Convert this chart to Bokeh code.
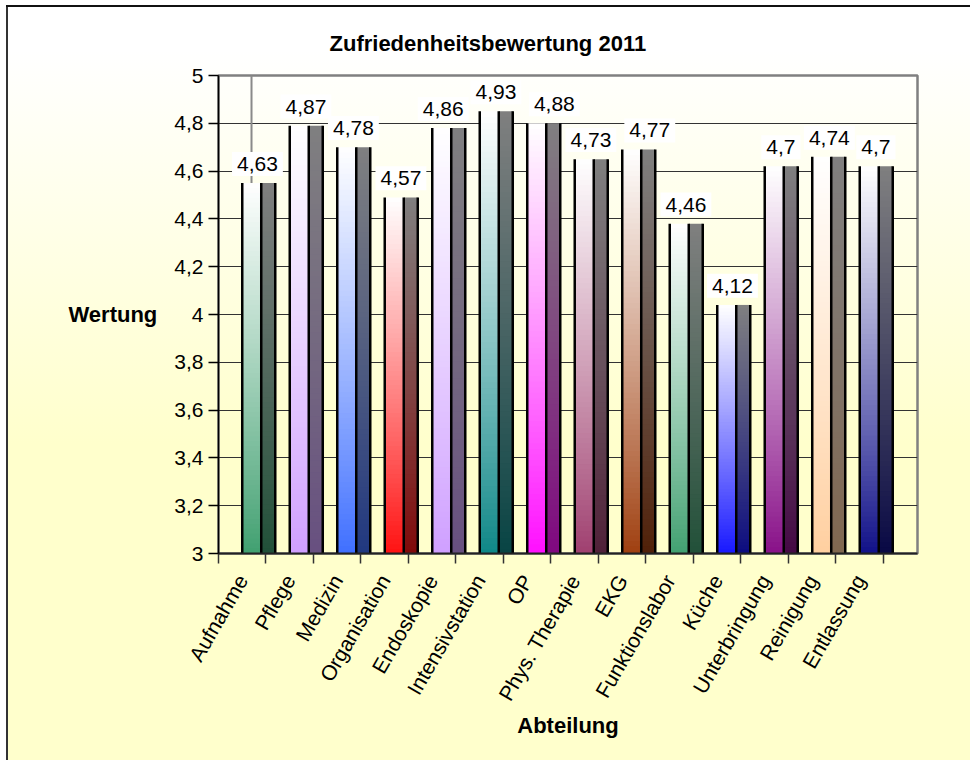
import math
from bokeh.plotting import figure
from bokeh.models import ColumnDataSource, FixedTicker, Range1d, Span
from bokeh.core.properties import value
from bokeh.embed import file_html
from bokeh.resources import INLINE

# ---------------- data ----------------
categories = ["Aufnahme", "Pflege", "Medizin", "Organisation", "Endoskopie",
              "Intensivstation", "OP", "Phys. Therapie", "EKG", "Funktionslabor",
              "Küche", "Unterbringung", "Reinigung", "Entlassung"]
scores = [4.63, 4.87, 4.78, 4.57, 4.86, 4.93, 4.88, 4.73, 4.77, 4.46, 4.12, 4.70, 4.74, 4.70]
score_labels = ["4,63", "4,87", "4,78", "4,57", "4,86", "4,93", "4,88", "4,73",
                "4,77", "4,46", "4,12", "4,7", "4,74", "4,7"]
bar_colors = ["#339966", "#CC99FF", "#3366FF", "#FF0000", "#CC99FF", "#008080", "#FF00FF",
              "#993366", "#993300", "#339966", "#0000FF", "#800080", "#FFCC99", "#000080"]
y_ticks = [3, 3.2, 3.4, 3.6, 3.8, 4, 4.2, 4.4, 4.6, 4.8, 5]
y_tick_labels = ["3", "3,2", "3,4", "3,6", "3,8", "4", "4,2", "4,4", "4,6", "4,8", "5"]
chart_title = "Zufriedenheitsbewertung 2011"
x_title = "Abteilung"
y_title = "Wertung"

# ---------------- style ----------------
FONT_NAME = "Liberation Sans"
FONT = value(FONT_NAME)
Y_MIN, Y_MAX = 3, 5
DEPTH = 0.08          # visual 3-D depth shift of the columns
FRONT_W = 0.40        # front face width (category units)
SIDE_W = 0.295        # side face width
N_STRIPS = 80
label_nudge = [-0.02, 0, 0, 0, -0.11, 0, 0.23, 0, 0.24, 0, -0.02, 0, 0.02, 0]

n = len(categories)
x_end = n + 0.716

p = figure(width=964, height=755, x_range=Range1d(0, x_end), y_range=Range1d(Y_MIN, Y_MAX),
           output_backend="svg", toolbar_location=None,
           min_border_left=212, min_border_right=53, min_border_top=70, min_border_bottom=207,
           background_fill_color=None, border_fill_color=None,
           outline_line_color="#808080", outline_line_width=2.5)
p.margin = (5, 0, 0, 6)
p.styles = {"background": "linear-gradient(#111,#111) 0 0/100% 2px no-repeat, "
                          "linear-gradient(#333,#333) 0 0/2px 100% no-repeat, "
                          "linear-gradient(180deg, #FFFFFF 0%, #FFFFFF 6%, #FFFFCC 58%, #FFFFCC 100%)"}
p.extra_y_ranges = {"bars": Range1d(Y_MIN + DEPTH, Y_MAX + DEPTH)}

# title
p.title.text = chart_title
p.title.align = "left"
p.title.offset = 111
p.title.standoff = 40
p.title.text_font = FONT_NAME
p.title.text_font_size = "22px"
p.title.text_font_style = "bold"
p.title.text_color = "black"

# y axis
yax = p.yaxis[0]
yax.ticker = FixedTicker(ticks=y_ticks)
yax.major_label_overrides = {t: l for t, l in zip(y_ticks, y_tick_labels)}
yax.major_label_text_font = FONT_NAME
yax.major_label_text_font_size = "21px"
yax.major_label_text_color = "black"
yax.major_label_standoff = 5
yax.major_tick_out = 10
yax.major_tick_in = 0
yax.minor_tick_line_color = None
yax.axis_line_color = "black"
yax.axis_line_width = 1.5
yax.major_tick_line_color = "black"
yax.major_tick_line_width = 1.5
yax.axis_label = y_title
yax.axis_label_text_font = FONT_NAME
yax.axis_label_text_font_size = "22px"
yax.axis_label_text_font_style = "bold"
yax.axis_label_text_color = "black"
yax.axis_label_standoff = 14
if "axis_label_orientation" in yax.properties():
    yax.axis_label_orientation = "horizontal"

# x axis: labels at category centres, ticks at category boundaries
centers = [i + 0.5 for i in range(n)]
bounds = list(range(n + 1))
xax = p.xaxis[0]
xax.ticker = FixedTicker(ticks=centers, minor_ticks=bounds)
xax.major_label_overrides = {c: name for c, name in zip(centers, categories)}
xax.major_label_orientation = math.pi / 3
xax.major_label_text_font = FONT_NAME
xax.major_label_text_font_size = "21px"
xax.major_label_text_color = "black"
xax.major_label_standoff = 13
xax.major_tick_line_color = None
xax.major_tick_out = 0
xax.major_tick_in = 0
xax.minor_tick_out = 10
xax.minor_tick_in = 0
xax.minor_tick_line_color = "#333333"
xax.minor_tick_line_width = 1.5
xax.axis_line_color = "#222222"
xax.axis_line_width = 2
xax.axis_label = x_title
xax.axis_label_text_font = FONT_NAME
xax.axis_label_text_font_size = "22px"
xax.axis_label_text_font_style = "bold"
xax.axis_label_text_color = "black"
xax.axis_label_standoff = 0

p.xgrid.visible = False
p.ygrid.ticker = FixedTicker(ticks=y_ticks)
p.ygrid.grid_line_color = "#333333"
p.ygrid.grid_line_width = 1

# back-left wall edge
p.add_layout(Span(location=0.695, dimension="height", line_color="#8a8a8a",
                  line_width=2, level="underlay"))

# ---------------- columns (gradient strips) ----------------
def hex_rgb(h):
    h = h.lstrip("#")
    return [int(h[i:i + 2], 16) for i in (0, 2, 4)]

def to_hex(c):
    return "#%02x%02x%02x" % tuple(max(0, min(255, int(round(v)))) for v in c)

L, R, B, T, C = [], [], [], [], []
for i, (v, col) in enumerate(zip(scores, bar_colors)):
    rgb = hex_rgb(col)
    x_front = i + 0.5
    h = (v - Y_MIN) / N_STRIPS
    for k in range(N_STRIPS):
        y0 = Y_MIN + h * k
        y1 = min(Y_MIN + h * (k + 1) + h * 0.6, v)
        f = (k + 0.5) / N_STRIPS
        w = f ** 0.9
        front = [c + (255 - c) * w for c in rgb]
        side = [c * 0.5 for c in front]
        L.append(x_front); R.append(x_front + FRONT_W); B.append(y0); T.append(y1); C.append(to_hex(front))
        L.append(x_front + FRONT_W); R.append(x_front + FRONT_W + SIDE_W); B.append(y0); T.append(y1); C.append(to_hex(side))

strips = ColumnDataSource(dict(left=L, right=R, bottom=B, top=T, color=C))
p.quad(left="left", right="right", bottom="bottom", top="top", fill_color="color",
       line_color=None, source=strips, y_range_name="bars")

# column edges
ex, ey0, ey1 = [], [], []
for i, v in enumerate(scores):
    for dx in (0.5, 0.5 + FRONT_W, 0.5 + FRONT_W + SIDE_W):
        ex.append(i + dx); ey0.append(Y_MIN); ey1.append(v)
p.segment(x0=ex, y0=ey0, x1=ex, y1=ey1, line_color="black", line_width=2.5, y_range_name="bars")

# value labels
val_src = ColumnDataSource(dict(x=[i + 0.84 + d for i, d in enumerate(label_nudge)],
                                y=scores, text=score_labels))
p.text(x="x", y="y", text="text", source=val_src, text_align="center", text_baseline="middle",
       text_font=FONT, text_font_size="21px", text_color="black",
       background_fill_color="white", padding=5)

open("out.html", "w").write(file_html(p, INLINE))
